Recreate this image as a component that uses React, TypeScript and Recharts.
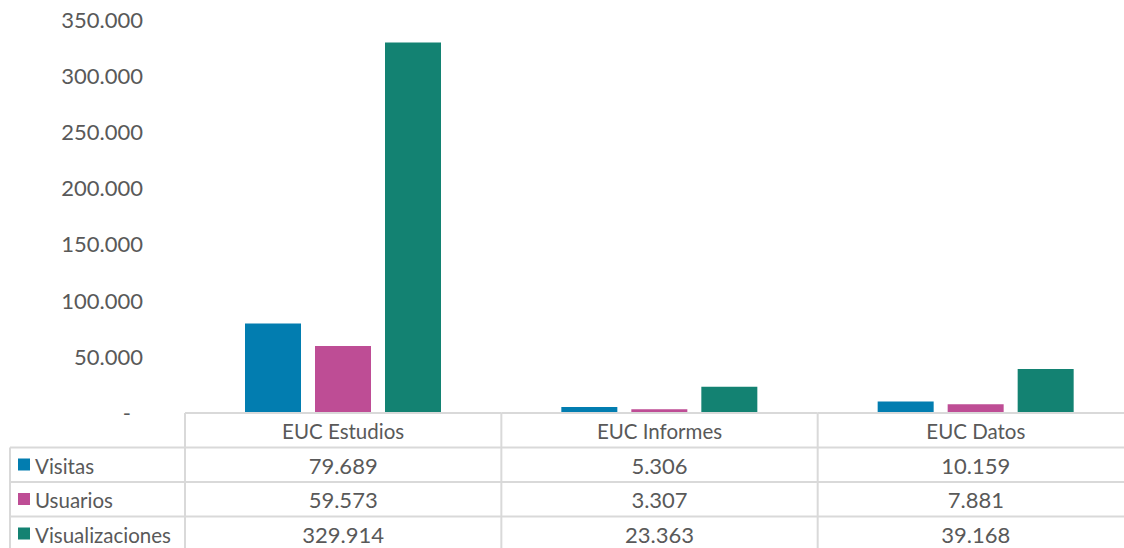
import React from 'react';
import { BarChart, Bar, XAxis, YAxis } from 'recharts';

const categories = ['EUC Estudios', 'EUC Informes', 'EUC Datos'];
const seriesNames = ['Visitas', 'Usuarios', 'Visualizaciones'];
const seriesKeys = ['visitas', 'usuarios', 'visualizaciones'];
const visitas = [79689, 5306, 10159];
const usuarios = [59573, 3307, 7881];
const visualizaciones = [329914, 23363, 39168];
const seriesColors = ['#027db0', '#be4d95', '#138272'];
const yTicks = [0, 50000, 100000, 150000, 200000, 250000, 300000, 350000];

const seriesValues = [visitas, usuarios, visualizaciones];
const data = categories.map((c, i) => ({
  name: c,
  visitas: visitas[i],
  usuarios: usuarios[i],
  visualizaciones: visualizaciones[i],
}));

const FONT = 'Lato, "Noto Sans", sans-serif';
const TEXT = '#595959';
const GRID = '#d9d9d9';
const FS = 22;
const FS_WORD = 20.5;
const ROW_H = 34.5;
const BASE = 26;
const TABLE_LEFT = 10;
const CHART_H = 548;

const fmt = (v: number) =>
  v === 0 ? '-' : String(v).replace(/\B(?=(\d{3})+(?!\d))/g, '.');

const YTick = (props: any) => {
  const { x, y, payload } = props;
  const v = payload.value as number;
  return (
    <text
      x={x - (v === 0 ? 12 : 0)}
      y={y}
      dy="0.355em"
      textAnchor="end"
      fill={TEXT}
      fontSize={FS}
      fontFamily={FONT}
    >
      {fmt(v)}
    </text>
  );
};

const TableTick = (props: any) => {
  const { x, y, payload, width } = props;
  const n = categories.length;
  const band =
    typeof width === 'number' && width > 0
      ? width / n
      : payload && payload.offset
      ? payload.offset * 2
      : 316;
  const left = x - band / 2;
  const right = x + band / 2;
  const i: number = payload.index ?? props.index;
  const top = y;
  const bottom = CHART_H + 10;
  return (
    <g>
      <line x1={left} x2={left} y1={top} y2={bottom} stroke={GRID} strokeWidth={2} />
      {[0, 1, 2, 3].map((k) => (
        <line
          key={'h' + k}
          x1={left}
          x2={right}
          y1={top + ROW_H * k}
          y2={top + ROW_H * k}
          stroke={GRID}
          strokeWidth={2}
        />
      ))}
      <text x={x} y={top + BASE} textAnchor="middle" fill={TEXT} fontSize={FS_WORD} fontFamily={FONT}>
        {categories[i]}
      </text>
      {seriesValues.map((vals, k) => (
        <text
          key={'v' + k}
          x={x}
          y={top + ROW_H * (k + 1) + BASE}
          textAnchor="middle"
          fill={TEXT}
          fontSize={FS}
          fontFamily={FONT}
        >
          {fmt(vals[i])}
        </text>
      ))}
      {i === 0 && (
        <g>
          <line x1={TABLE_LEFT} x2={TABLE_LEFT} y1={top + ROW_H} y2={bottom} stroke={GRID} strokeWidth={2} />
          {[1, 2, 3].map((k) => (
            <line
              key={'lh' + k}
              x1={TABLE_LEFT}
              x2={left}
              y1={top + ROW_H * k}
              y2={top + ROW_H * k}
              stroke={GRID}
              strokeWidth={2}
            />
          ))}
          {seriesNames.map((s, k) => (
            <g key={'l' + k}>
              <rect
                x={TABLE_LEFT + 8}
                y={top + ROW_H * (k + 1) + 11}
                width={12}
                height={12}
                fill={seriesColors[k]}
              />
              <text
                x={TABLE_LEFT + 25}
                y={top + ROW_H * (k + 1) + BASE}
                fill={TEXT}
                fontSize={FS_WORD}
                fontFamily={FONT}
              >
                {s}
              </text>
            </g>
          ))}
        </g>
      )}
    </g>
  );
};

export default function App() {
  return (
    <div
      style={{
        position: 'absolute',
        left: 0,
        top: 0,
        width: 1124,
        height: CHART_H,
        overflow: 'hidden',
        background: '#fff',
      }}
    >
      <BarChart
        width={1134}
        height={CHART_H}
        data={data}
        margin={{ top: 20, right: 0, bottom: 0, left: 0 }}
        barCategoryGap={60}
        barGap={14}
      >
        <YAxis
          width={185}
          domain={[0, 350000]}
          ticks={yTicks}
          interval={0}
          axisLine={false}
          tickLine={false}
          tickSize={0}
          tickMargin={42}
          tick={<YTick />}
        />
        <XAxis
          dataKey="name"
          height={135}
          interval={0}
          axisLine={false}
          tickLine={false}
          tickSize={0}
          tickMargin={0}
          tick={<TableTick />}
        />
        {seriesKeys.map((k, idx) => (
          <Bar
            key={k}
            dataKey={k}
            name={seriesNames[idx]}
            fill={seriesColors[idx]}
            isAnimationActive={false}
          />
        ))}
      </BarChart>
    </div>
  );
}
